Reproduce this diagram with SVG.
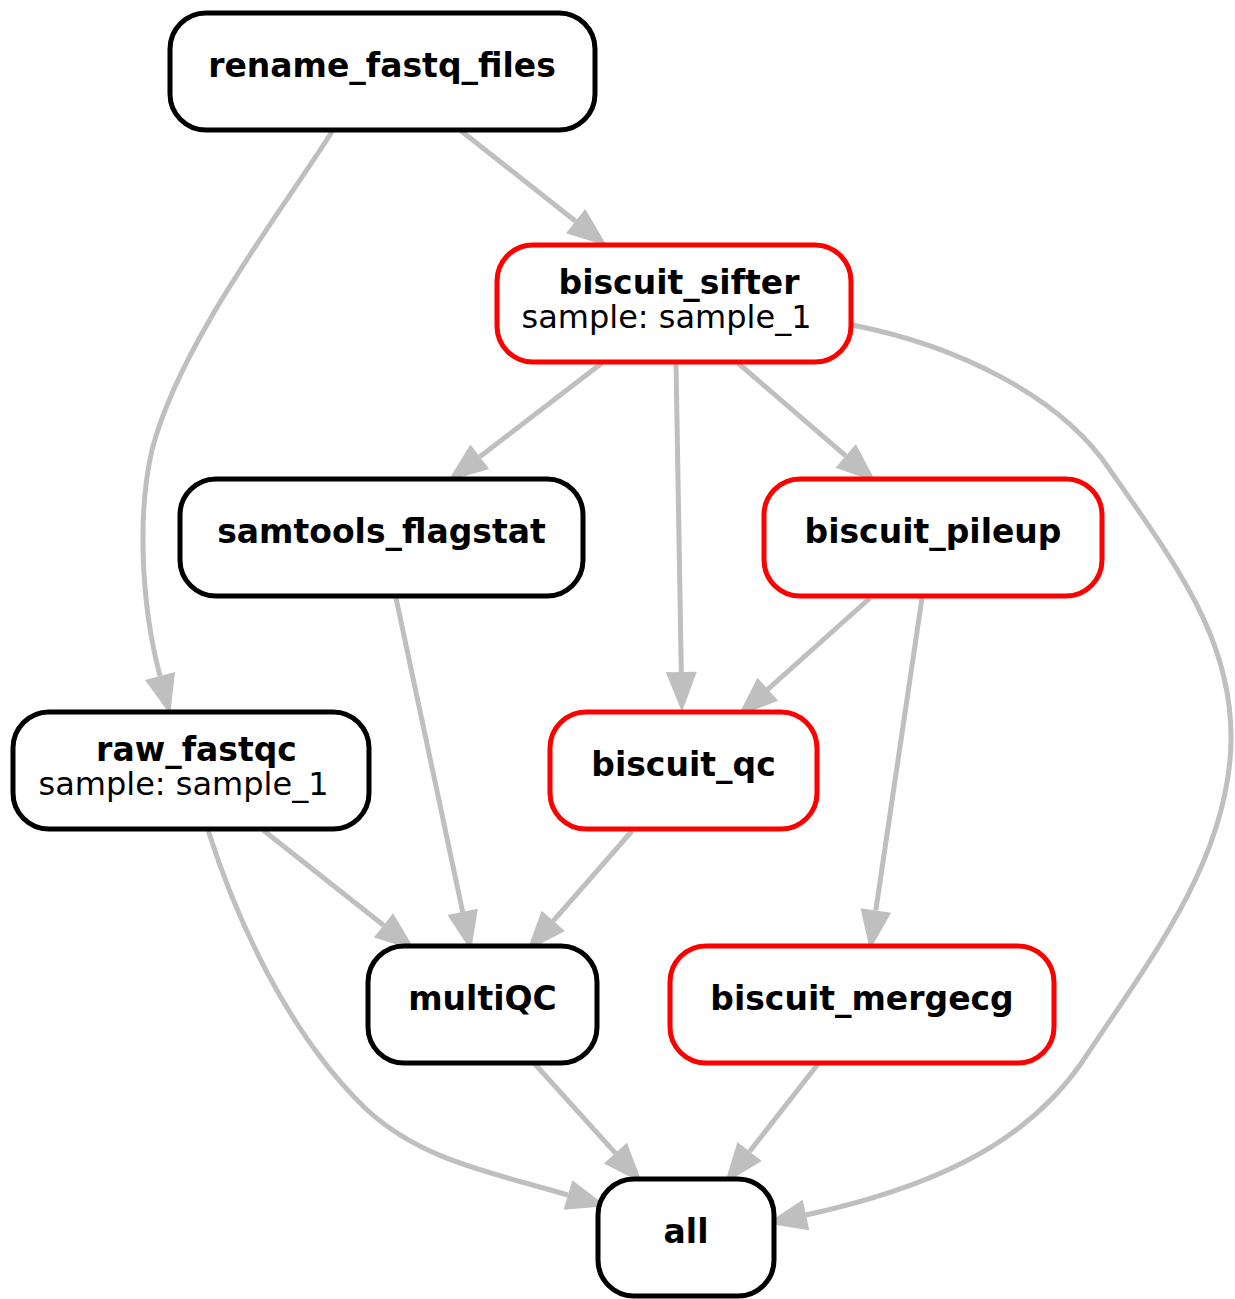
<svg xmlns="http://www.w3.org/2000/svg" width="1235" height="1299" viewBox="0 0 1235 1299">
<style>
.n rect{fill:#fff;stroke-width:5}
.k rect{stroke:#000}
.r rect{stroke:#ff0000}
text{font-family:"DejaVu Sans","Liberation Sans",sans-serif;font-size:32px;fill:#000;text-anchor:middle}
.b{font-weight:bold;font-size:33px}
.e path{fill:none;stroke:#bfbfbf;stroke-width:5;marker-end:url(#ah)}
</style>
<defs>
<marker id="ah" viewBox="0 -16 40 32" refX="0" refY="0" markerWidth="40" markerHeight="32" markerUnits="userSpaceOnUse" orient="auto" overflow="visible">
<path d="M0,-15.5 L40,0 L0,15.5 z" fill="#bfbfbf"/>
</marker>
</defs>
<rect width="1235" height="1299" fill="#fff"/>
<g id="edges" class="e">
<path d="M460,130 L575.6,221.2"/>
<path d="M333,130 C290,200 180,340 152,450 C138,510 140,600 160,676"/>
<path d="M602,363 L479.8,456.7"/>
<path d="M676,363 L681.3,672"/>
<path d="M738,363 L845.7,455.9"/>
<path d="M852,325 C955,345 1060,395 1110,470 C1180,570 1240,650 1230,760 C1220,870 1150,960 1080,1065 C1020,1150 920,1190 806,1215"/>
<path d="M396,598 L462.7,911.9"/>
<path d="M870,598 L767.8,689.3"/>
<path d="M922,598 L875.8,910.4"/>
<path d="M263,830 L383.5,925.3"/>
<path d="M208,830 C235,915 285,1030 365,1108 C420,1160 490,1172 568,1195"/>
<path d="M632,831 L553.3,920.9"/>
<path d="M534,1063 L615.4,1153.2"/>
<path d="M818,1064 L749.6,1151.5"/>
</g>
<g id="rename_fastq_files" class="n k"><rect x="170" y="13" width="425" height="117" rx="36"/><text class="b" x="382" y="76.5">rename_fastq_files</text></g>
<g id="biscuit_sifter" class="n r"><rect x="497" y="245" width="354" height="117" rx="36"/><text class="b" x="679" y="294">biscuit_sifter</text><text x="666.5" y="328">sample: sample_1</text></g>
<g id="samtools_flagstat" class="n k"><rect x="180" y="479" width="403" height="117" rx="36"/><text class="b" x="381.5" y="542.5">samtools_flagstat</text></g>
<g id="biscuit_pileup" class="n r"><rect x="764" y="479" width="338" height="117" rx="36"/><text class="b" x="933" y="542.5">biscuit_pileup</text></g>
<g id="raw_fastqc" class="n k"><rect x="13" y="712" width="356" height="117" rx="36"/><text class="b" x="196.5" y="761">raw_fastqc</text><text x="183.5" y="795">sample: sample_1</text></g>
<g id="biscuit_qc" class="n r"><rect x="550" y="712" width="267" height="117" rx="36"/><text class="b" x="683.5" y="775.5">biscuit_qc</text></g>
<g id="multiQC" class="n k"><rect x="368" y="946" width="229" height="117" rx="36"/><text class="b" x="482.5" y="1009.5">multiQC</text></g>
<g id="biscuit_mergecg" class="n r"><rect x="670" y="946" width="384" height="117" rx="36"/><text class="b" x="862" y="1009.5">biscuit_mergecg</text></g>
<g id="all" class="n k"><rect x="598" y="1179" width="176" height="117" rx="36"/><text class="b" x="686" y="1242.5">all</text></g>
</svg>
